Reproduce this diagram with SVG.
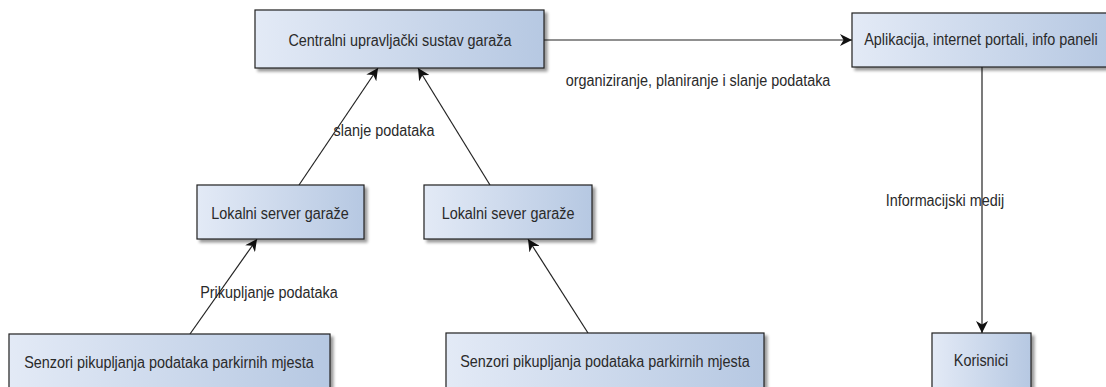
<svg xmlns="http://www.w3.org/2000/svg" width="1106" height="387" viewBox="0 0 1106 387">
<style>
.box{fill:url(#g);stroke:#222;stroke-width:1.2;filter:url(#sh)}
.t{font-family:"Liberation Sans",Arial,sans-serif;font-size:14.4px;fill:#2a2a2a;text-anchor:middle;dominant-baseline:central}
.e{stroke:#222;stroke-width:1.2;fill:none;marker-end:url(#arr)}
</style>
<defs>
<linearGradient id="g" x1="0" y1="0" x2="1" y2="0">
<stop offset="0" stop-color="#e3eaf6"/>
<stop offset="1" stop-color="#b6c8e2"/>
</linearGradient>
<filter id="sh" x="-10%" y="-10%" width="130%" height="140%">
<feGaussianBlur in="SourceAlpha" stdDeviation="1.5"/>
<feOffset dx="3" dy="3" result="b"/>
<feComponentTransfer><feFuncA type="linear" slope="0.4"/></feComponentTransfer>
<feMerge><feMergeNode/><feMergeNode in="SourceGraphic"/></feMerge>
</filter>
<marker id="arr" viewBox="0 0 10 10" refX="10" refY="5" markerWidth="12" markerHeight="12" markerUnits="userSpaceOnUse" orient="auto">
<path d="M0,0 L10,5 L0,10 L3,5 Z" fill="#111"/>
</marker>
</defs>
<rect width="1106" height="387" fill="#fff"/>
<g id="connectors">
<line class="e" x1="544" y1="40" x2="852" y2="40"/>
<line class="e" x1="299" y1="185" x2="378" y2="68"/>
<line class="e" x1="490" y1="185" x2="418" y2="68"/>
<line class="e" x1="190" y1="334" x2="257" y2="239"/>
<line class="e" x1="588" y1="333" x2="528" y2="239"/>
<line class="e" x1="982" y1="67" x2="982" y2="333"/>
<text class="t" transform="translate(698 80) scale(1 1.2)">organiziranje, planiranje i slanje podataka</text>
<text class="t" transform="translate(384 130) scale(1 1.2)">slanje podataka</text>
<text class="t" transform="translate(269 292) scale(1 1.2)">Prikupljanje podataka</text>
<text class="t" transform="translate(945 200) scale(1 1.2)">Informacijski medij</text>
</g>
<g id="central"><rect class="box" x="255" y="10" width="289" height="58"/><text class="t" transform="translate(400 40) scale(1 1.2)">Centralni upravljački sustav garaža</text></g>
<g id="app"><rect class="box" x="852" y="13" width="260" height="54"/><text class="t" transform="translate(981 39) scale(1 1.2)">Aplikacija, internet portali, info paneli</text></g>
<g id="server1"><rect class="box" x="197" y="185" width="167" height="54"/><text class="t" transform="translate(280 213) scale(1 1.2)">Lokalni server garaže</text></g>
<g id="server2"><rect class="box" x="424" y="185" width="168" height="54"/><text class="t" transform="translate(508 213) scale(1 1.2)">Lokalni sever garaže</text></g>
<g id="sensor1"><rect class="box" x="9" y="334" width="321" height="60"/><text class="t" transform="translate(169 362) scale(1 1.2)">Senzori pikupljanja podataka parkirnih mjesta</text></g>
<g id="sensor2"><rect class="box" x="446" y="333" width="318" height="60"/><text class="t" transform="translate(605 361) scale(1 1.2)">Senzori pikupljanja podataka parkirnih mjesta</text></g>
<g id="korisnici"><rect class="box" x="932" y="333" width="99" height="60"/><text class="t" transform="translate(981 360) scale(1 1.2)">Korisnici</text></g>
</svg>
